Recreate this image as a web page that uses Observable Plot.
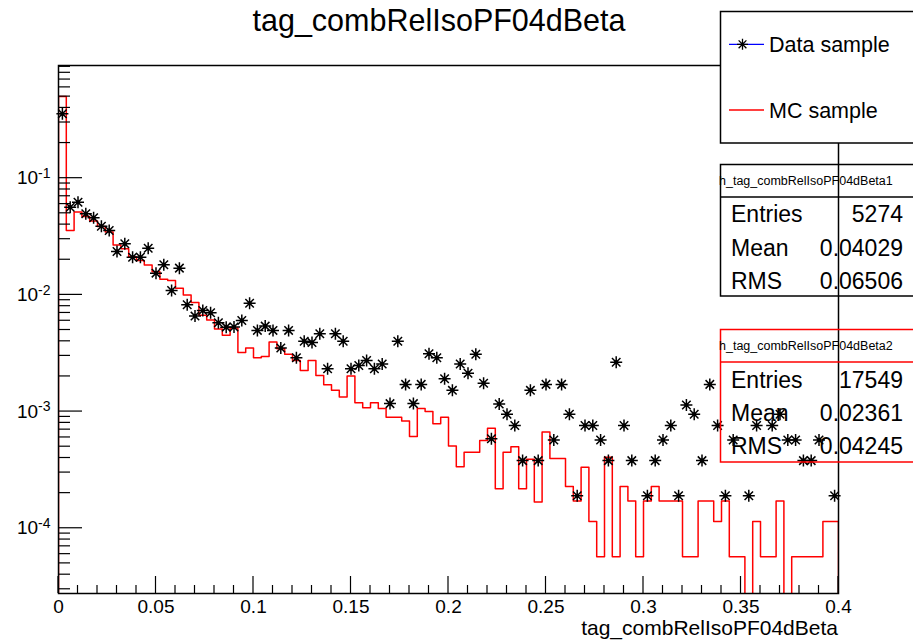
<!DOCTYPE html>
<html><head><meta charset="utf-8">
<script src="https://cdn.jsdelivr.net/npm/d3@7"></script>
<script src="https://cdn.jsdelivr.net/npm/@observablehq/plot@0.6"></script>
<style>body{margin:0;background:#fff;} svg{display:block}</style>
</head><body><div id="chart"></div>
<script>
const binWidth = 0.004;
const nBins = 100;
const dataValues = [
0.357,0.0564,0.0623,0.0495,0.0458,0.0388,0.0356,0.0235,0.0274,0.0210,
0.0210,0.0251,0.01535,0.0181,0.0109,0.01695,0.00822,0.00658,0.00735,0.00703,
0.00577,0.00529,0.0053,0.00604,0.00849,0.00496,0.0054,0.00496,0.0035,0.00496,
0.00289,0.00401,0.0039,0.00465,0.00233,0.00465,0.00401,0.00233,0.00248,0.00274,
0.00233,0.00256,0.00117,0.0040,0.00171,0.00117,0.00171,0.00313,0.00289,0.00191,
0.00152,0.00256,0.00213,0.0031,0.00175,0.000585,0.00116,0.00095,0.00076,0.00038,
0.00152,0.00038,0.00171,0.00057,0.00171,0.00095,0.00019,0.00076,0.00076,0.00057,
0.00038,0.00265,0.00076,0.00038,0,0.00019,0.00038,0.00057,0.00076,0.00019,
0.00114,0.00095,0.00038,0.00171,0.00076,0.00019,0.00057,0,0.00019,0.00076,
0,0.00076,0.00095,0.00057,0.00057,0.00038,0.00038,0.00057,0,0.00019
];
const mcValues = [
0.50,0.0356,0.0512,0.0470,0.0430,0.0385,0.0345,0.0268,0.0248,0.0212,
0.0197,0.0180,0.0158,0.0136,0.0133,0.0114,0.0100,0.0086,0.0067,0.0061,
0.0051,0.0045,0.0052,0.0032,0.0035,0.00289,0.00297,0.00394,0.00346,0.0031,
0.00274,0.00225,0.00274,0.00204,0.0017,0.00152,0.00133,0.00202,0.00119,0.00108,
0.00119,0.00106,0.000895,0.000895,0.00083,0.000612,0.00106,0.0010,0.000786,0.000895,
0.000506,0.000337,0.000449,0.000449,0.000565,0.000721,0.000218,0.000449,0.0005,0.000218,
0.00039,0.000168,0.000667,0.000397,0.000397,0.000228,0.000171,0.000333,0.000114,0.000057,
0.000407,0.000057,0.000228,0.000171,0.000057,0.000171,0.000228,0.000171,0.000171,0.000171,
0.000057,0.000057,0.000171,0.000171,0.000114,0.000171,0.000057,0.000057,0,0.000114,
0.000057,0.000057,0.000171,0,0.000057,0.000057,0.000057,0.000057,0.000114,0.000114
];
const xTickValues = [0,0.05,0.1,0.15,0.2,0.25,0.3,0.35,0.4];
const yDecades = [1e-4,1e-3,1e-2,1e-1];
const yDecadeExponents = ["-4","-3","-2","-1"];
const legendLabels = ["Data sample","MC sample"];
const statsNames = ["Entries","Mean","RMS"];
const stats1 = ["5274","0.04029","0.06506"];
const stats2 = ["17549","0.02361","0.04245"];
const histNames = ["h_tag_combRelIsoPF04dBeta1","h_tag_combRelIsoPF04dBeta2"];
const titleText = "tag_combRelIsoPF04dBeta";
const xLabelText = "tag_combRelIsoPF04dBeta";

(function(){
const FONT = "'Liberation Sans', Arial, Helvetica, sans-serif";
const yMin = 2.76e-5, yMax = 0.924;
const floorVal = 1e-9;

const mcStep = [{x:0, y:floorVal}];
mcValues.forEach((v,i)=>{
  const y = v>0 ? v : floorVal;
  mcStep.push({x:i*binWidth, y}, {x:(i+1)*binWidth, y});
});
mcStep.push({x:nBins*binWidth, y:floorVal});

const points = dataValues.map((v,i)=>({x:(i+0.5)*binWidth, y:v})).filter(d=>d.y>0);

const asterisk = {draw(ctx, size){
  const r = Math.sqrt(size/Math.PI), d = r*Math.SQRT1_2;
  ctx.moveTo(-r,0); ctx.lineTo(r,0);
  ctx.moveTo(0,-r); ctx.lineTo(0,r);
  ctx.moveTo(-d,-d); ctx.lineTo(d,d);
  ctx.moveTo(-d,d); ctx.lineTo(d,-d);
}};

const plot = Plot.plot({
  width: 913, height: 643,
  marginLeft: 58, marginRight: 75, marginTop: 65, marginBottom: 50,
  style: {fontFamily: FONT, fontSize: "19px", background: "white", color: "black"},
  x: {domain: [0, 0.4]},
  y: {type: "log", domain: [yMin, yMax]},
  marks: [
    Plot.line(mcStep, {x:"x", y:"y", stroke:"#ff0000", strokeWidth:1.5, clip:true}),
    Plot.dot(points, {x:"x", y:"y", symbol: asterisk, r:6, stroke:"black", strokeWidth:1.5, fill:"none"}),
    Plot.dot(points, {x:"x", y:"y", r:2, fill:"black", stroke:"none"}),
    Plot.frame({stroke:"black", strokeWidth:1.5}),
    Plot.axisX({ticks: xTickValues, tickSize: 0, tickPadding: 6, tickFormat: d => String(+d.toFixed(2)), fontSize: 19, label: null}),
    Plot.axisY({ticks: yDecades, tickSize: 0, tickPadding: 8, tickFormat: () => "10", fontSize: 19, label: null})
  ]
});
document.getElementById("chart").appendChild(plot);

const svg = d3.select(plot);
const sx = plot.scale("x"), sy = plot.scale("y");
const X = v => sx.apply(v), Y = v => sy.apply(v);
const pLeft = X(0), pRight = X(0.4), pBottom = Y(yMin);

svg.selectAll('g[aria-label="y-axis tick label"] text').each(function(d,i){
  d3.select(this).append("tspan").attr("dy","-0.45em").attr("font-size","14px").text(yDecadeExponents[i]);
});

const tg = svg.append("g").attr("stroke","black").attr("stroke-width",1.2);
d3.range(0, 41).forEach(k=>{
  const v = k*0.01; const major = k%5===0;
  tg.append("line").attr("x1",X(v)).attr("x2",X(v)).attr("y1",pBottom).attr("y2",pBottom-(major?17:8));
});
for (let e=-5; e<=0; e++){
  for (let m=1; m<=9; m++){
    const v = m*Math.pow(10,e);
    if (v < yMin || v > yMax) continue;
    tg.append("line").attr("x1",pLeft).attr("x2",pLeft+(m===1?24:12)).attr("y1",Y(v)).attr("y2",Y(v));
  }
}

svg.append("text").attr("x",439).attr("y",31).attr("text-anchor","middle")
  .attr("font-family",FONT).attr("font-size","30.5px").text(titleText);
svg.append("text").attr("x",pRight).attr("y",635).attr("text-anchor","end")
  .attr("font-family",FONT).attr("font-size","21px").text(xLabelText);

const lg = svg.append("g").attr("font-family",FONT).attr("text-anchor","start");
lg.append("rect").attr("x",720.5).attr("y",11.5).attr("width",210).attr("height",131.5)
  .attr("fill","white").attr("stroke","black").attr("stroke-width",1.5);
lg.append("line").attr("x1",729).attr("x2",764).attr("y1",44.3).attr("y2",44.3).attr("stroke","#0000ff").attr("stroke-width",1.3);
const sp = d3.path(); asterisk.draw(sp, Math.PI*5.5*5.5);
lg.append("path").attr("transform","translate(742.5,44.3)").attr("d", sp.toString())
  .attr("stroke","black").attr("stroke-width",1.3).attr("fill","none");
lg.append("line").attr("x1",729).attr("x2",764).attr("y1",110).attr("y2",110).attr("stroke","#ff0000").attr("stroke-width",1.3);
lg.append("text").attr("x",769).attr("y",44.3+7.5).attr("font-size","21.5px").text(legendLabels[0]);
lg.append("text").attr("x",769).attr("y",110+7.5).attr("font-size","21.5px").text(legendLabels[1]);

function statsBox(y0, y1, yh, color, name, vals, rows){
  const g = svg.append("g").attr("font-family",FONT).attr("text-anchor","start");
  g.append("rect").attr("x",720.5).attr("y",y0).attr("width",210).attr("height",y1-y0)
    .attr("fill","none").attr("stroke",color).attr("stroke-width",1.5);
  g.append("line").attr("x1",720.5).attr("x2",930).attr("y1",yh).attr("y2",yh).attr("stroke",color).attr("stroke-width",1.5);
  g.append("text").attr("x",719).attr("y",(y0+yh)/2+4.5).attr("font-size","12.5px").text(name);
  rows.forEach((ry,i)=>{
    g.append("text").attr("x",731).attr("y",ry+8.2).attr("font-size","23px").text(statsNames[i]);
    g.append("text").attr("x",903).attr("y",ry+8.2).attr("font-size","23px").attr("text-anchor","end").text(vals[i]);
  });
}
statsBox(164.5, 296, 197, "black", histNames[0], stats1, [214,248,281]);
statsBox(329.5, 462, 362, "#ff0000", histNames[1], stats2, [380,413,446]);
})();
</script></body></html>
